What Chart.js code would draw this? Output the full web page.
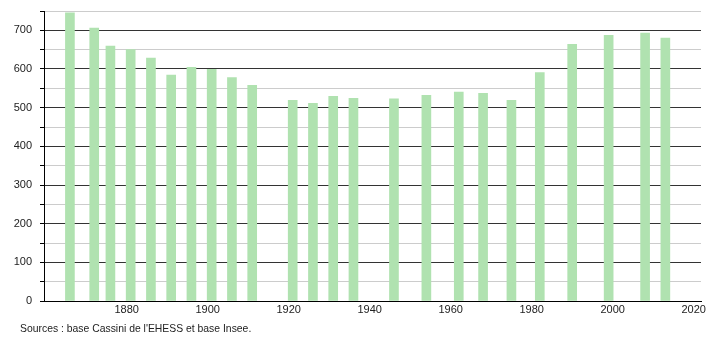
<!DOCTYPE html>
<html>
<head>
<meta charset="utf-8">
<script src="https://cdn.jsdelivr.net/npm/chart.js@4"></script>
<style>
  body { margin: 0; background: #fff; }
  #wrap { position: relative; width: 710px; height: 340px; }
  #source {
    position: absolute; left: 20px; top: 323px;
    font: 10.4px "Liberation Sans", Arial, sans-serif; color: #222;
  }
</style>
</head>
<body>
<div id="wrap">
  <canvas id="pop-chart" width="710" height="340"></canvas>
  <div id="source">Sources : base Cassini de l'EHESS et base Insee.</div>
</div>
<script>
// Population by census year
const years = [1866, 1872, 1876, 1881, 1886, 1891, 1896, 1901, 1906, 1911,
  1921, 1926, 1931, 1936, 1946, 1954, 1962, 1968, 1975, 1982,
  1990, 1999, 2008, 2013];
const population = [745, 706, 659, 650, 628, 584, 604, 599, 578, 558,
  519, 511, 529, 524, 523, 532, 540, 537, 519, 591,
  664, 687, 693, 680];
const yearTicks = [1880, 1900, 1920, 1940, 1960, 1980, 2000, 2020];
const popTicks = [0, 100, 200, 300, 400, 500, 600, 700];

const ctx = document.getElementById("pop-chart").getContext("2d");
new Chart(ctx, {
  type: "bar",
  data: {
    datasets: [
      {
        label: "Population",
        data: years.map((y, i) => ({ x: y, y: population[i] })),
        backgroundColor: "#b0e2b0",
        barThickness: 9,
      },
    ],
  },
  options: {
    responsive: false,
    animation: false,
    layout: { padding: { top: 11, right: 9, bottom: 19, left: 0 } },
    plugins: { legend: { display: false }, tooltip: { enabled: false } },
    scales: {
      x: {
        type: "linear",
        offset: false,
        min: 1859.6,
        max: 2021.8,
        afterBuildTicks: (scale) => {
          scale.ticks = yearTicks.map((v) => ({ value: v }));
        },
        afterFit: (scale) => { scale.height = 20; },
        grid: { display: false, drawTicks: false, tickLength: 0, offset: false },
        border: { display: true, color: "#000", width: 1 },
        ticks: {
          padding: 2,
          color: "#222",
          font: { family: "'Liberation Sans', Arial", size: 11 },
          callback: (v) => String(v),
        },
      },
      y: {
        min: 0,
        max: 750,
        afterFit: (scale) => {
          scale.width = 44;
          scale.paddingTop = 0;
          scale.paddingBottom = 0;
        },
        ticks: {
          stepSize: 25,
          padding: 8,
          color: "#222",
          font: { family: "'Liberation Sans', Arial", size: 11 },
          callback: (v) => (popTicks.includes(v) ? String(v) : ""),
        },
        grid: {
          color: (c) => (popTicks.includes(c.tick && c.tick.value) ? "#333" : "#cccccc"),
          tickColor: "#000",
          tickLength: 4,
        },
        border: { display: true, color: "#000", width: 1 },
      },
    },
  },
});
</script>
</body>
</html>
